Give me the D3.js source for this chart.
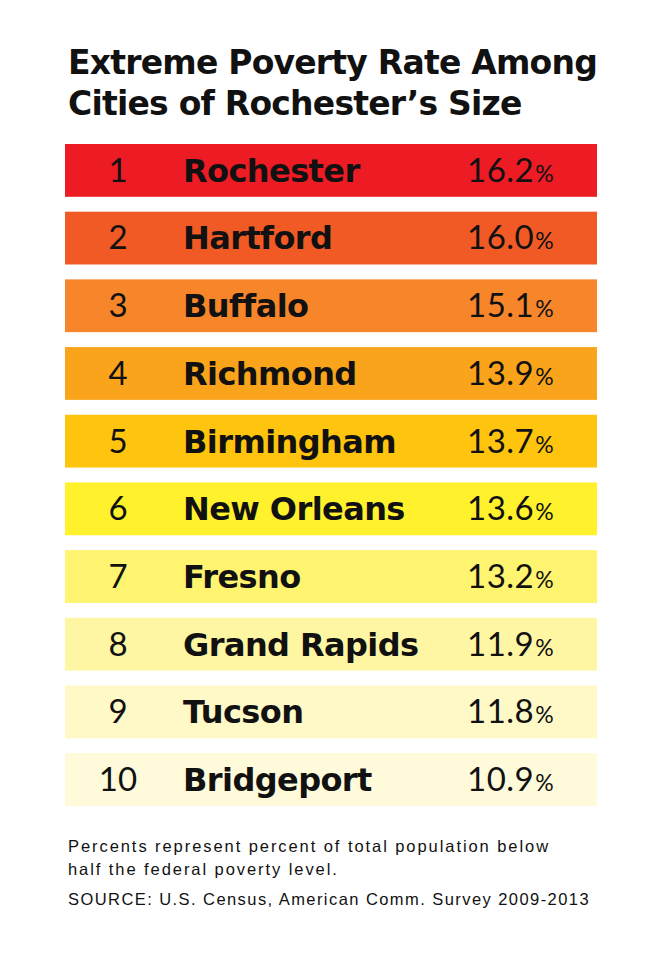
<!DOCTYPE html>
<html>
<head>
<meta charset="utf-8">
<script src="https://cdn.jsdelivr.net/npm/d3@7"></script>
<style>
  body { margin: 0; background: #fff; }
  svg { display: block; }
</style>
</head>
<body>
<div class="chart"></div>
<script>
// chart size = browser window
var svgWidth = 650;
var svgHeight = 973;

// data
var ranks = [1, 2, 3, 4, 5, 6, 7, 8, 9, 10];
var cities = ["Rochester", "Hartford", "Buffalo", "Richmond", "Birmingham",
  "New Orleans", "Fresno", "Grand Rapids", "Tucson", "Bridgeport"];
var rates = [16.2, 16.0, 15.1, 13.9, 13.7, 13.6, 13.2, 11.9, 11.8, 10.9];
var rowColors = ["#ed1c24", "#f15a24", "#f7862a", "#f9a41b", "#ffc40d",
  "#fff22c", "#fff46f", "#fff6a3", "#fff9c8", "#fffbda"];
var titleLines = ["Extreme Poverty Rate Among", "Cities of Rochester\u2019s Size"];
var noteLines = ["Percents represent percent of total population below",
  "half the federal poverty level."];
var sourceLine = "SOURCE: U.S. Census, American Comm. Survey 2009-2013";

var boldFont = "'DejaVu Sans', sans-serif";

var svg = d3.select(".chart")
  .append("svg")
  .attr("width", svgWidth)
  .attr("height", svgHeight);

// letter spacing that makes a text end at the wanted width
function spacingFor(node, target) {
  var w = node.getComputedTextLength();
  return (target - w) / node.textContent.length;
}

// title
var title = svg.append("g").attr("class", "title");
var titleText = title.selectAll("text")
  .data(titleLines)
  .enter()
  .append("text")
  .attr("x", 68)
  .attr("y", function(d, i) { return 74 + i * 41; })
  .style("font-family", boldFont)
  .style("font-weight", 700)
  .style("font-size", "33px")
  .style("fill", "#111")
  .text(function(d) { return d; });

var titleSpacing = spacingFor(titleText.nodes()[0], 529);
titleText.style("letter-spacing", titleSpacing + "px");

// rows
var y = d3.scaleBand()
  .domain(ranks)
  .range([144, 806])
  .paddingInner(0.22)
  .paddingOuter(0);

var x = d3.scaleLinear()
  .domain([0, 1])
  .range([65, 597]);

var rows = svg.selectAll(".row")
  .data(ranks)
  .enter()
  .append("g")
  .attr("class", "row")
  .attr("transform", function(d) { return "translate(0," + y(d) + ")"; });

rows.append("rect")
  .attr("x", x(0))
  .attr("width", x(1) - x(0))
  .attr("height", y.bandwidth())
  .style("fill", function(d, i) { return rowColors[i]; });

var base = y.bandwidth() * 0.715;

rows.append("text")
  .attr("x", 118)
  .attr("y", base)
  .attr("text-anchor", "middle")
  .style("font-family", "Lato, sans-serif")
  .style("font-size", "33px")
  .style("fill", "#111")
  .text(function(d) { return d; });

var names = rows.append("text")
  .attr("x", 183)
  .attr("y", base)
  .style("font-family", boldFont)
  .style("font-weight", 700)
  .style("font-size", "32px")
  .style("fill", "#111")
  .text(function(d, i) { return cities[i]; });

// "Birmingham" runs to about x = 396 in the picture
var nameSpacing = spacingFor(names.nodes()[4], 213);
names.style("letter-spacing", nameSpacing + "px");

var vals = rows.append("text")
  .attr("x", 467)
  .attr("y", base)
  .style("font-family", "Lato, sans-serif")
  .style("fill", "#111");

vals.append("tspan")
  .style("font-size", "33px")
  .style("letter-spacing", "0.5px")
  .text(function(d, i) { return rates[i].toFixed(1); });

vals.append("tspan")
  .attr("dx", 1)
  .style("font-size", "23px")
  .text("%");

// footnote
var notes = svg.append("g").attr("class", "notes")
  .style("font-family", "'Liberation Sans', Arial, sans-serif")
  .style("font-size", "16.5px")
  .style("fill", "#111");

var noteText = notes.selectAll(".note")
  .data(noteLines)
  .enter()
  .append("text")
  .attr("class", "note")
  .attr("x", 68)
  .attr("y", function(d, i) { return 852 + i * 23; })
  .text(function(d) { return d; });

var noteSpacing = spacingFor(noteText.nodes()[0], 482);
noteText.style("letter-spacing", noteSpacing + "px");

var src = notes.append("text")
  .attr("x", 68)
  .attr("y", 905)
  .text(sourceLine);
src.style("letter-spacing", spacingFor(src.node(), 522) + "px");
</script>
</body>
</html>
